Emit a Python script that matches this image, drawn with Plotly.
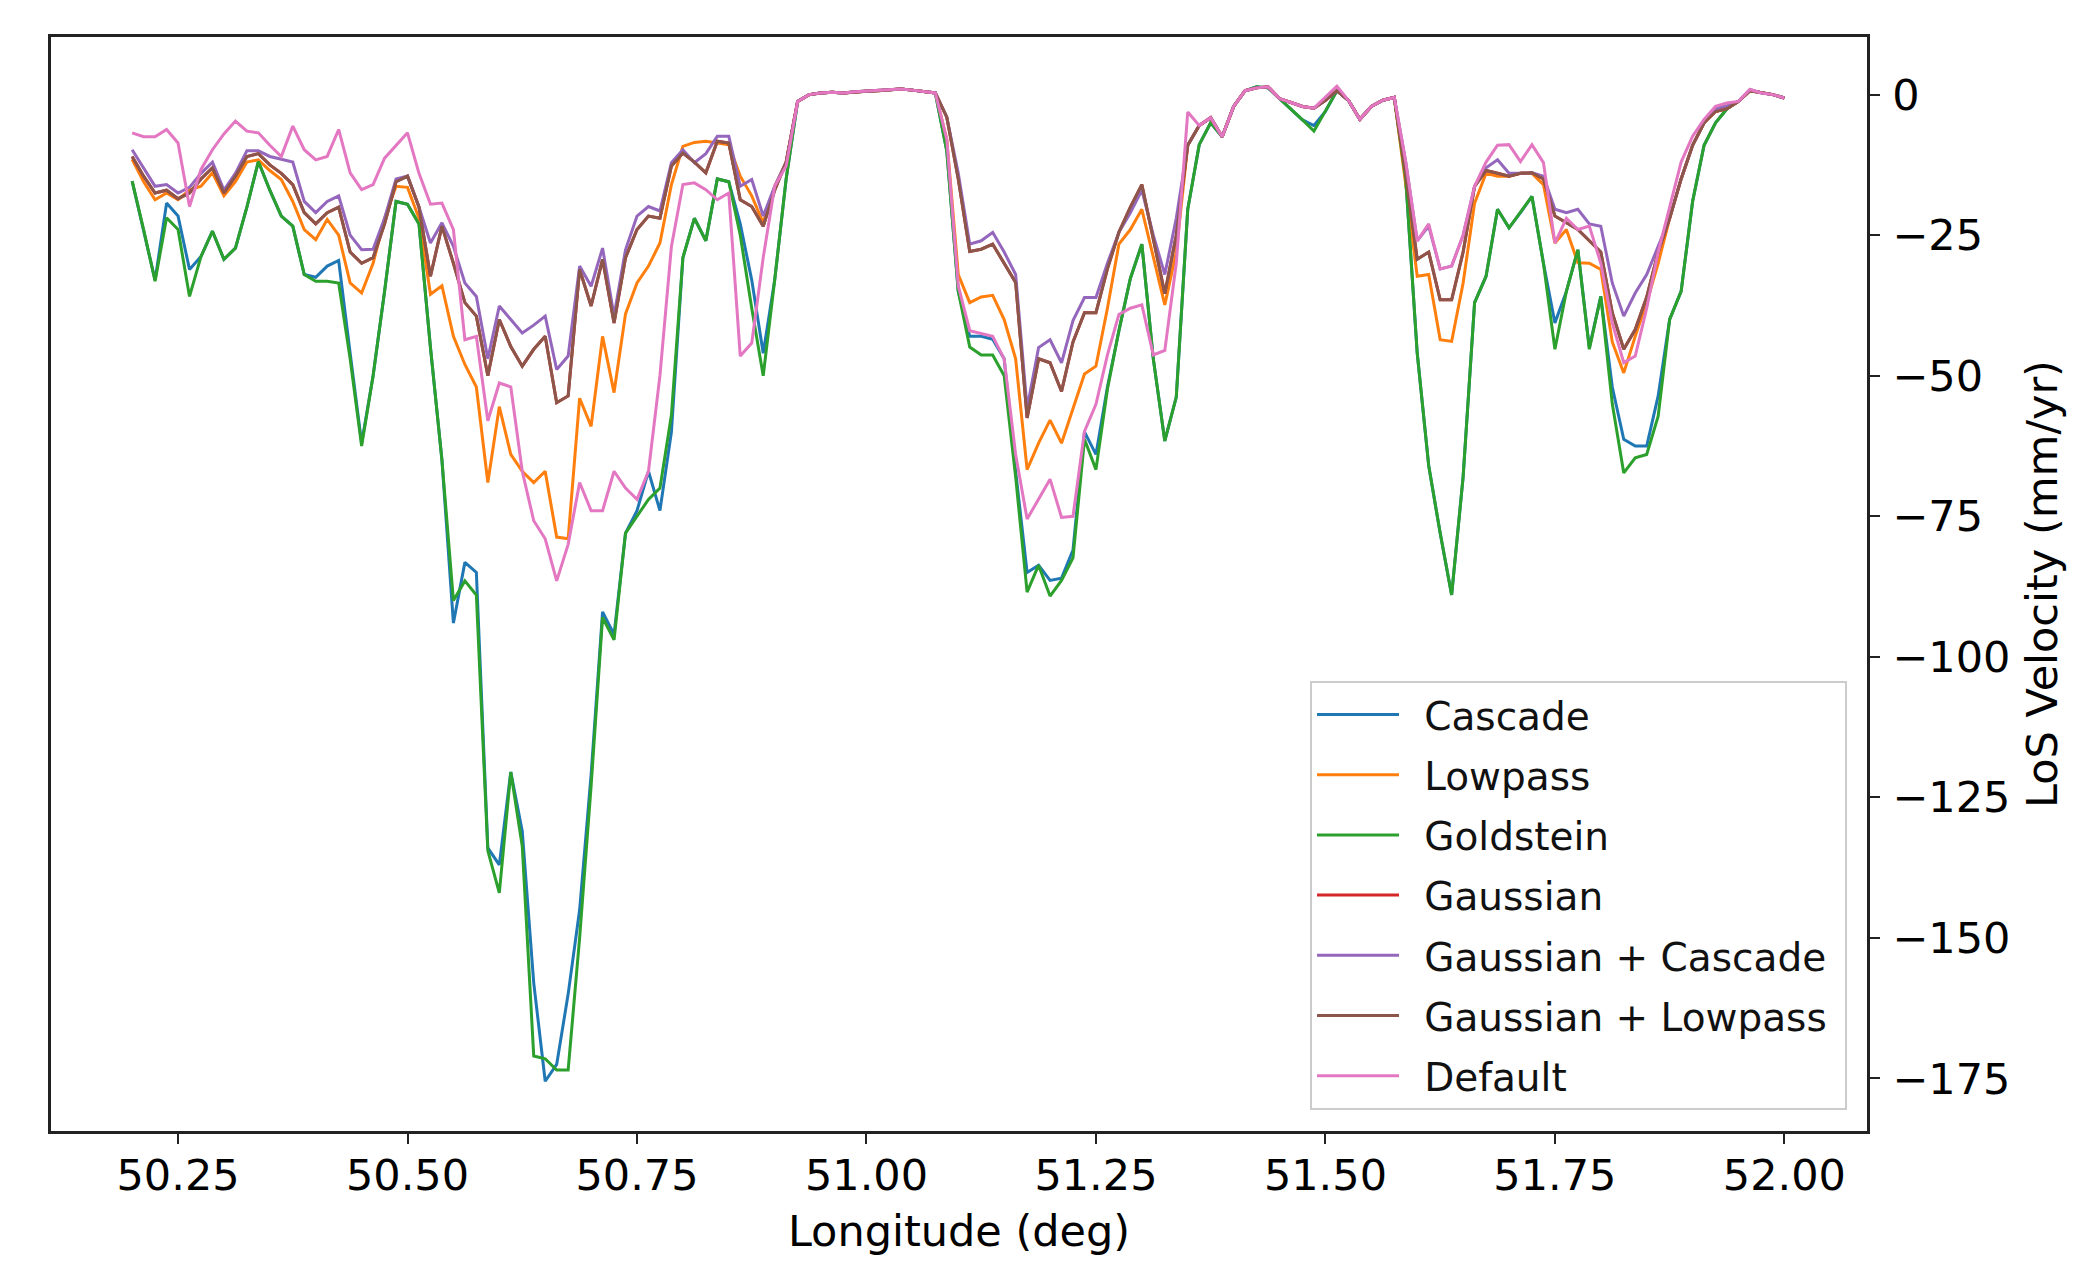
import plotly.graph_objects as go

# Sample longitudes (deg), evenly spaced every 0.0125 deg from 50.2 to 52.0
longitude = [round(50.2 + 0.0125 * k, 4) for k in range(145)]

cascade = [
    -15.4, -24, -33, -19.3, -21.6, -31.1, -28.8, -24.3, -29.3, -27.3,
    -20, -11.9, -17, -21.6, -23.4, -32, -32.5, -30.5, -29.5, -46,
    -62, -50, -35, -19, -19.5, -23, -45, -65, -94, -83.2,
    -85, -134, -137, -120.5, -131, -158, -175.5, -172.5, -160, -145,
    -121, -92, -96, -78, -74, -67, -74, -60, -29, -22,
    -26, -15, -15.5, -23, -33, -46, -33, -15, -1.2, 0,
    0.3, 0.4, 0.3, 0.5, 0.6, 0.7, 0.9, 1.0, 0.8, 0.6,
    0.3, -10, -35, -43, -43, -43.5, -47, -67, -85, -83.7,
    -86.4, -86, -81, -60, -64, -52, -42, -32.7, -26.6, -47,
    -61.6, -53.8, -20.4, -8.9, -5, -7.5, -2.1, 0.7, 1.4, 1.2,
    -0.7, -2.5, -4.5, -5.5, -3, 0.7, -1, -4.4, -2.1, -1,
    -0.5, -15, -46, -66, -78, -89, -68, -37, -32.3, -20.4,
    -23.7, -21, -18.1, -30, -40.6, -35, -27.6, -45, -35.9, -52,
    -61.3, -62.5, -62.5, -53.6, -40, -35, -19, -9, -5, -2.5,
    -1.2, 0.7, 0.3, 0, -0.6,
]

lowpass = [
    -11.5, -15.5, -18.7, -17.5, -18.7, -17, -16.3, -13.9, -18, -15.5,
    -12, -11.6, -13.5, -15.1, -19, -24, -25.8, -22.2, -25, -33.5,
    -35.3, -30, -22, -16.3, -16.5, -22, -35.5, -34, -43, -48,
    -52, -69, -55.5, -64, -67, -69, -67, -78.7, -79, -54,
    -59, -43, -53, -39, -33.5, -30.5, -26.4, -16, -9.2, -8.5,
    -8.3, -8.6, -8.9, -14.5, -18, -22.8, -16.3, -12, -1.2, 0,
    0.3, 0.4, 0.3, 0.5, 0.6, 0.7, 0.9, 1.0, 0.8, 0.6,
    0.3, -8, -32, -37, -36, -35.7, -40, -47, -66.7, -62,
    -57.9, -62, -56, -49.7, -48.3, -38, -26.6, -24, -20.4, -29,
    -37.4, -28, -9, -5.5, -4.1, -7.5, -2.1, 0.7, 1.2, 1.4,
    -0.7, -1.4, -2.1, -2.4, -1, 0.7, -1, -4.4, -2.1, -1,
    -0.5, -16, -32.3, -32, -43.6, -43.9, -33.5, -19.3, -14, -14.5,
    -14.5, -14, -14, -16, -26.4, -24, -29.9, -30, -31.1, -44,
    -49.5, -43, -37, -30, -22, -15, -9, -5, -3, -2.5,
    -1.2, 0.7, 0.3, 0, -0.6,
]

goldstein = [
    -15.4, -24, -33.2, -21.9, -24, -35.9, -28.8, -24.3, -29.3, -27.3,
    -20, -11.9, -17, -21.6, -23.4, -32, -33.2, -33.2, -33.5, -47,
    -62.5, -50, -35, -19, -19.5, -23, -45, -65, -90, -86.5,
    -89, -134.5, -142, -120.5, -133.7, -171, -171.5, -173.5, -173.5, -150,
    -123, -93, -97, -78, -75, -72, -70, -57, -29, -22,
    -26, -15, -15.5, -25, -38, -50, -33, -15, -1.2, 0,
    0.3, 0.4, 0.3, 0.5, 0.6, 0.7, 0.9, 1.0, 0.8, 0.6,
    0.3, -10, -35, -44.9, -46.3, -46.3, -50, -68, -88.5, -83.7,
    -89.2, -86.4, -82.4, -61.3, -66.7, -52.4, -42, -32.7, -26.6, -47,
    -61.6, -53.8, -20.4, -8.9, -5, -7.5, -2.1, 0.7, 1.4, 1.2,
    -0.7, -2.5, -4.5, -6.5, -3, 0.7, -1, -4.4, -2.1, -1,
    -0.5, -15, -46, -66, -78, -89, -68, -37, -32.3, -20.4,
    -23.7, -21, -18.1, -30, -45.3, -35, -27.6, -45.3, -35.9, -55,
    -67.3, -64.6, -64, -57.2, -40, -35, -19, -9, -5, -2.5,
    -1.2, 0.7, 0.3, 0, -0.6,
]

gaussian = [
    -11, -14.5, -17.5, -17, -18.5, -17.5, -15, -13, -17.5, -14.5,
    -11, -10.5, -12.5, -14, -16, -21, -23, -21, -20, -28,
    -30, -29, -23, -15.5, -14.5, -20, -32.3, -23.4, -30, -37,
    -39.4, -50, -40, -44.8, -48.3, -45.3, -43, -54.8, -53.6, -31.1,
    -37.6, -29.3, -40.6, -29, -24, -21.6, -22, -12.7, -10.4, -12,
    -13.9, -8.3, -8.6, -18.7, -19.9, -23.4, -17, -12, -1.2, 0,
    0.3, 0.4, 0.3, 0.5, 0.6, 0.7, 0.9, 1.0, 0.8, 0.6,
    0.3, -4, -15, -27.9, -27.5, -26.6, -29.9, -33.4, -57.5, -47,
    -47.7, -52.8, -44, -38.8, -38.8, -31, -24.5, -20, -16, -26,
    -35.4, -25, -9, -5.5, -4.1, -7.5, -2.1, 0.7, 1.2, 1.4,
    -0.7, -1.4, -2.1, -2.4, -1, 0.7, -1, -4.4, -2.1, -1,
    -0.5, -14, -29.3, -28, -36.5, -36.5, -28, -16.3, -13.5, -14,
    -14.5, -14, -13.9, -15, -21.6, -22.8, -24, -26, -28, -38.8,
    -45.3, -41.8, -36, -28, -22, -15, -9, -5, -3, -2.5,
    -1.2, 0.7, 0.3, 0, -0.6,
]

gaussian_cascade = [
    -9.8, -13, -16.3, -16, -17.5, -16.5, -14, -12, -17, -14,
    -10, -10, -11, -11.5, -12, -19, -21, -19, -18, -25,
    -27.6, -27.5, -22, -15, -14.5, -20, -26.4, -22.8, -27, -33.5,
    -35.9, -47, -37.6, -40, -42.4, -41, -39.4, -48.9, -46.5, -30.5,
    -34.1, -27.3, -39.4, -27.6, -21.6, -19.9, -20.7, -12.1, -9.8, -12.1,
    -10.5, -7.4, -7.4, -16.3, -15.1, -21.6, -16.3, -12, -1.2, 0,
    0.3, 0.4, 0.3, 0.5, 0.6, 0.7, 0.9, 1.0, 0.8, 0.6,
    0.3, -4, -14, -26.6, -26, -24.5, -28, -32, -55.8, -45,
    -43.6, -47.7, -40.2, -36.1, -36.1, -30, -24.5, -21, -17, -25,
    -32, -22, -9, -5.5, -4.1, -7.5, -2.1, 0.7, 1.2, 1.4,
    -0.7, -1.4, -2.1, -2.4, -1, 0.7, -1, -4.4, -2.1, -1,
    -0.5, -12, -26, -23.4, -31, -30.5, -25, -16.3, -13, -11.6,
    -14, -14, -13.9, -14.5, -20.4, -21, -20.4, -23, -23.4, -33.5,
    -39.4, -35.3, -32, -27, -22, -15, -9, -5, -2.5, -2,
    -1.2, 0.9, 0.3, 0, -0.6,
]

gaussian_lowpass = [
    -11, -14.5, -17.5, -17, -18.5, -17.5, -15, -13, -17.5, -14.5,
    -11, -10.5, -12.5, -14, -16, -21, -23, -21, -20, -28,
    -30, -29, -23, -15.5, -14.5, -20, -32.3, -23.4, -30, -37,
    -39.4, -50, -40, -44.8, -48.3, -45.3, -43, -54.8, -53.6, -31.1,
    -37.6, -29.3, -40.6, -29, -24, -21.6, -22, -12.7, -10.4, -12,
    -13.9, -8.3, -8.6, -18.7, -19.9, -23.4, -17, -12, -1.2, 0,
    0.3, 0.4, 0.3, 0.5, 0.6, 0.7, 0.9, 1.0, 0.8, 0.6,
    0.3, -4, -15, -27.9, -27.5, -26.6, -29.9, -33.4, -57.5, -47,
    -47.7, -52.8, -44, -38.8, -38.8, -31, -24.5, -20, -16, -26,
    -35.4, -25, -9, -5.5, -4.1, -7.5, -2.1, 0.7, 1.2, 1.4,
    -0.7, -1.4, -2.1, -2.4, -1, 0.7, -1, -4.4, -2.1, -1,
    -0.5, -14, -29.3, -28, -36.5, -36.5, -28, -16.3, -13.5, -14,
    -14.5, -14, -13.9, -15, -21.6, -22.8, -24, -26, -28, -38.8,
    -45.3, -41.8, -36, -28, -22, -15, -9, -5, -3, -2.5,
    -1.2, 0.7, 0.3, 0, -0.6,
]

default = [
    -6.8, -7.5, -7.5, -6.2, -8.6, -19.9, -13.3, -9.8, -7, -4.7,
    -6.5, -6.8, -9, -11, -5.6, -9.8, -11.6, -11, -6.2, -13.9,
    -16.9, -16, -11.3, -9, -6.8, -14, -19.5, -19.3, -24, -43.6,
    -43, -58, -51.3, -52, -67, -75.8, -79, -86.5, -80, -69,
    -74, -74, -67, -70, -72, -67, -50, -27, -16, -15.7,
    -16.9, -18.7, -17.5, -46.5, -44.2, -29, -16.3, -12.7, -1.2, 0,
    0.3, 0.4, 0.3, 0.5, 0.6, 0.7, 0.9, 1.0, 0.8, 0.6,
    0.3, -8, -34, -42, -42.5, -43, -47, -64, -75.5, -72,
    -68.4, -75.2, -75, -59.9, -55.1, -46.3, -39.1, -38, -37.4, -46.3,
    -45.5, -30, -3.1, -5.5, -4.1, -7.5, -2.1, 0.7, 1.2, 1.4,
    -0.7, -1.4, -2.1, -2.4, -0.5, 1.5, -1, -4.4, -2.1, -1,
    -0.5, -12, -26, -23, -31, -30.5, -25, -16.3, -12, -9,
    -8.9, -11.9, -8.9, -12.1, -26.4, -22, -24, -23.4, -30, -40.6,
    -47.7, -46.5, -38, -28, -20, -12, -7.4, -4.4, -2.1, -1.5,
    -1.2, 0.9, 0.3, 0, -0.6,
]

series_names = ["Cascade", "Lowpass", "Goldstein", "Gaussian",
                "Gaussian + Cascade", "Gaussian + Lowpass", "Default"]
series_values = [cascade, lowpass, goldstein, gaussian,
                 gaussian_cascade, gaussian_lowpass, default]
series_colors = ["#1f77b4", "#ff7f0e", "#2ca02c", "#d62728",
                 "#9467bd", "#8c564b", "#e377c2"]

x_ticks = [50.25, 50.50, 50.75, 51.00, 51.25, 51.50, 51.75, 52.00]
x_ticktext = ["50.25", "50.50", "50.75", "51.00", "51.25", "51.50", "51.75", "52.00"]
y_ticks = [0, -25, -50, -75, -100, -125, -150, -175]
y_ticktext = ["0", "\u221225", "\u221250", "\u221275", "\u2212100", "\u2212125", "\u2212150", "\u2212175"]

FONT = "DejaVu Sans"
AX = "#222222"
LEGEND_PAD = "\u00a0\u2009"   # gap between legend line sample and its label
LEGEND_TAIL = "\u00a0"        # right padding inside the legend box

fig = go.Figure()
for k, (name, vals, col) in enumerate(zip(series_names, series_values, series_colors)):
    fig.add_trace(go.Scatter(
        x=longitude, y=vals, mode="lines", name=LEGEND_PAD + name + LEGEND_TAIL,
        line=dict(color=col, width=3),
        legendgroup=f"g{k}",
    ))

# The page body adds an 8 px offset, so the figure is 8 px smaller on each side
fig.update_layout(
    width=2091, height=1258,
    margin=dict(l=43, r=232, t=29, b=135, autoexpand=False),
    paper_bgcolor="white", plot_bgcolor="white",
    font=dict(family=FONT, color="black", size=43),
    showlegend=True,
    legend=dict(
        x=0.989, y=0.0195, xanchor="right", yanchor="bottom",
        bgcolor="white", bordercolor="#cccccc", borderwidth=2,
        font=dict(family=FONT, size=39, color="#111111"),
        itemwidth=82, tracegroupgap=6.5, traceorder="grouped",
    ),
    xaxis=dict(
        range=[50.1116, 52.09], tickvals=x_ticks, ticktext=x_ticktext,
        ticks="outside", ticklen=10, tickwidth=2, tickcolor=AX,
        showline=True, linecolor=AX, linewidth=2.5, mirror=True,
        showgrid=False, zeroline=False, ticklabelstandoff=-5,
        tickfont=dict(family=FONT, size=43, color="black"),
        title=dict(text="Longitude (deg)", font=dict(family=FONT, size=43, color="black"), standoff=17),
    ),
    yaxis=dict(
        side="right", range=[-184.35, 10.25], tickvals=y_ticks, ticktext=y_ticktext,
        ticks="outside", ticklen=10, tickwidth=2, tickcolor=AX,
        showline=True, linecolor=AX, linewidth=2.5, mirror=True,
        showgrid=False, zeroline=False, ticklabelstandoff=4,
        tickfont=dict(family=FONT, size=43, color="black"),
        title=dict(text="LoS Velocity (mm/yr)", font=dict(family=FONT, size=43, color="black"), standoff=18),
    ),
)

fig.write_html("out.html")
